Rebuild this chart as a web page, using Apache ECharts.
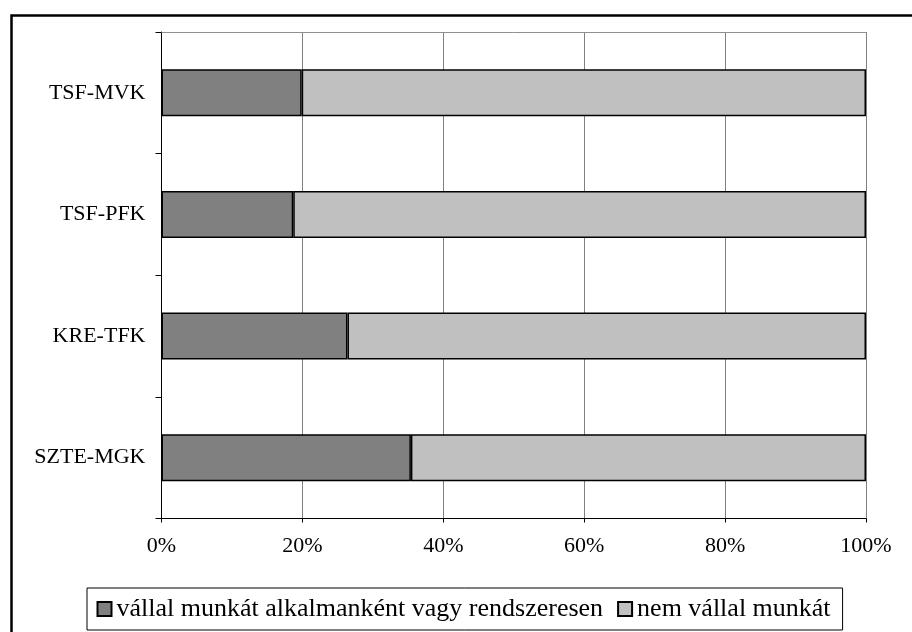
<!DOCTYPE html>
<html>
<head>
<meta charset="utf-8">
<script src="https://cdn.jsdelivr.net/npm/echarts@6/dist/echarts.min.js"></script>
<style>html,body{margin:0;padding:0;background:#fff}#c{width:912px;height:632px}</style>
</head>
<body>
<div id="c"></div>
<script>
const categories = ['TSF-MVK', 'TSF-PFK', 'KRE-TFK', 'SZTE-MGK'];
const seriesNames = ['vállal munkát alkalmanként vagy rendszeresen', 'nem vállal munkát'];
const workValues = [19.9, 18.7, 26.4, 35.4];
const noWorkValues = [80.1, 81.3, 73.6, 64.6];
const xTicks = [0, 20, 40, 60, 80, 100];

const FONT = '"Liberation Serif", "Times New Roman", serif';
const chart = echarts.init(document.getElementById('c'), null, {renderer: 'canvas'});
chart.setOption({
  animation: false,
  backgroundColor: '#fff',
  graphic: [{
    type: 'rect', left: 9, top: 13, z: 100, silent: true,
    shape: {width: 920, height: 640},
    style: {fill: 'none', stroke: '#000', lineWidth: 2.5}
  }],
  grid: {left: 161.5, right: 46, top: 32, bottom: 113.5, containLabel: false},
  xAxis: [{
    type: 'value', min: xTicks[0], max: xTicks[xTicks.length - 1], interval: 20,
    position: 'bottom',
    axisLine: {show: true, lineStyle: {color: '#000', width: 1.2}},
    axisTick: {show: true, length: 4, lineStyle: {color: '#000'}},
    axisLabel: {formatter: v => v + '%', color: '#000', fontFamily: FONT, fontSize: 22, margin: 17},
    splitLine: {show: true, lineStyle: {color: '#808080', width: 1}}
  }, {
    type: 'value', min: 0, max: 100, position: 'top',
    axisLine: {show: true, lineStyle: {color: '#909090', width: 1}},
    axisTick: {show: false}, axisLabel: {show: false}, splitLine: {show: false}
  }],
  yAxis: {
    type: 'category', data: categories, inverse: true,
    axisLine: {show: true, lineStyle: {color: '#000', width: 1}},
    axisTick: {show: true, length: 6, lineStyle: {color: '#000'}},
    axisLabel: {color: '#000', fontFamily: FONT, fontSize: 22, margin: 16},
    splitLine: {show: false}
  },
  legend: {
    left: 87, top: 588,
    padding: [8, 12, 8, 9.5],
    itemGap: 14, itemWidth: 14, itemHeight: 14,
    icon: 'rect',
    borderColor: '#000', borderWidth: 1,
    textStyle: {color: '#000', fontFamily: FONT, fontSize: 26},
    data: seriesNames
  },
  series: [{
    name: seriesNames[0], type: 'bar', stack: 'all', data: workValues,
    barWidth: 47,
    itemStyle: {color: '#808080', borderColor: '#000', borderWidth: 1.5}
  }, {
    name: seriesNames[1], type: 'bar', stack: 'all', data: noWorkValues,
    barWidth: 47,
    itemStyle: {color: '#c0c0c0', borderColor: '#000', borderWidth: 1.5}
  }]
});
</script>
</body>
</html>
